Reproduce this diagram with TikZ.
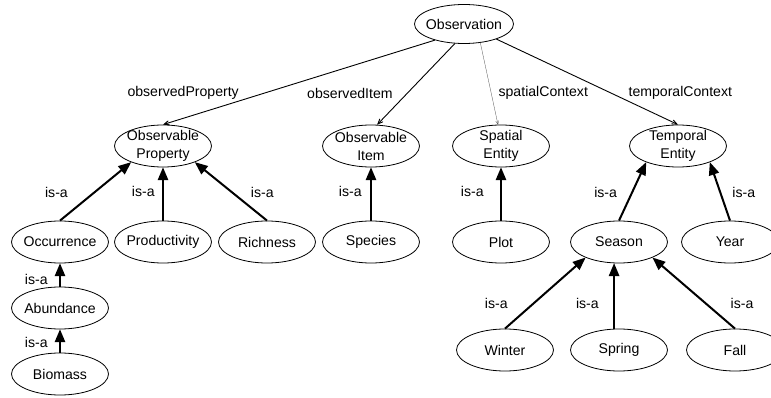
\documentclass[tikz,border=0pt]{standalone}
\usepackage{fontspec}
\setmainfont{Liberation Sans}
\usepackage{tikz}
\usetikzlibrary{shapes.geometric, arrows}

\begin{document}
\begin{tikzpicture}[x=1pt, y=1pt, node distance=96pt, font=\fontsize{14.1}{18}\selectfont]

\tikzstyle{concept} = [ellipse, draw=black, line width=0.8pt, minimum width=97pt, minimum height=42pt, inner xsep=-3pt, inner ysep=-1.5pt, align=center]
\tikzstyle{relation} = [line width=0.9pt, ->, >=angle 45]
\tikzstyle{isa} = [line width=2pt, ->, >=triangle 45]

\useasboundingbox (0,0) rectangle (771,-398);

\node (obs) [concept, minimum height=39pt] at (464,-24) {Observation};
\node (oprop) [concept] at (163,-146) {Observable\\Property};
\node (oitem) [concept] at (371,-146) {Observable\\Item};
\node (sent) [concept] at (501,-146) {Spatial\\Entity};
\node (tent) [concept] at (678,-146) {Temporal\\Entity};

\node (occ) [concept, below of=oprop, xshift=-103pt] {Occurrence};
\node (prod) [concept, below of=oprop] {Productivity};
\node (rich) [concept, below of=oprop, xshift=104pt] {Richness};
\node (spec) [concept, below of=oitem] {Species};
\node (plot) [concept, below of=sent] {Plot};
\node (season) [concept, below of=tent, xshift=-59pt] {Season};
\node (year) [concept, below of=tent, xshift=52pt] {Year};
\node (abund) [concept, below of=occ, yshift=30pt] {Abundance};
\node (biomass) [concept, below of=abund, yshift=30pt] {Biomass};
\node (winter) [concept, below of=season, xshift=-114pt, yshift=-12pt] {Winter};
\node (spring) [concept, below of=season, yshift=-12pt] {Spring};
\node (fall) [concept, below of=season, xshift=116pt, yshift=-12pt] {Fall};

\draw [relation] (obs.209) -- node[pos=0.63, left=21pt] {observedProperty} (oprop.north);
\draw [relation] (obs.245) -- node[pos=0.61, left=11pt] {observedItem} (oitem.74);
\draw [relation, line width=0.3pt, draw=black!70] (obs.311) -- node[pos=0.61, right=4pt] {spatialContext} (sent.98);
\draw [relation] (obs.335) -- node[pos=0.63, right=14pt] {temporalContext} (tent.north);

\draw [isa] (occ.north) -- node[pos=0.48, left=22pt] {is-a} (oprop.207);
\draw [isa] (prod.north) -- node[pos=0.54, left=4pt] {is-a} (oprop.south);
\draw [isa] (rich.north) -- node[pos=0.49, right=15pt] {is-a} (oprop.333);
\draw [isa] (spec.north) -- node[pos=0.54, left=5pt] {is-a} (oitem.south);
\draw [isa] (plot.north) -- node[pos=0.54, left=13pt] {is-a} (sent.south);
\draw [isa] (season.north) -- node[pos=0.49, left=11pt] {is-a} (tent.207);
\draw [isa] (year.north) -- node[pos=0.49, right=8pt] {is-a} (tent.333);
\draw [isa] (abund.north) -- node[pos=0.29, left=8pt] {is-a} (occ.south);
\draw [isa] (biomass.north) -- node[pos=0.42, left=8pt] {is-a} (abund.south);
\draw [isa] (winter.north) -- node[pos=0.36, left=22pt] {is-a} (season.205);
\draw [isa] (spring.103) -- node[pos=0.39, left=11pt] {is-a} (season.257);
\draw [isa] (fall.north) -- node[pos=0.36, right=21pt] {is-a} (season.335);

\end{tikzpicture}
\end{document}
